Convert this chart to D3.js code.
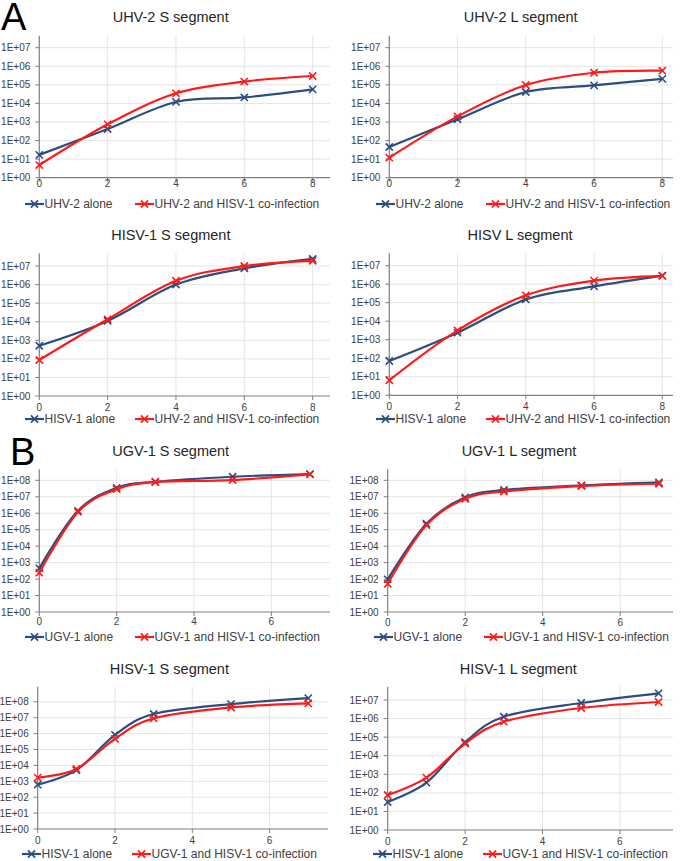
<!DOCTYPE html>
<html><head><meta charset="utf-8">
<script src="https://cdn.jsdelivr.net/npm/d3@7"></script>
<style>
html,body{margin:0;padding:0;background:#fff;}
svg{display:block;font-family:"Liberation Sans",Arial,sans-serif;}
</style></head>
<body>
<svg id="c" width="680" height="861"></svg>
<script>
// ---- data ----
const titles = ["UHV-2 S segment","UHV-2 L segment","HISV-1 S segment","HISV L segment",
                "UGV-1 S segment","UGV-1 L segment","HISV-1 S segment","HISV-1 L segment"];
const daysA = [0,2,4,6,8];
const daysB = [0,1,2,3,5,7];
const xTicksA = [0,2,4,6,8];
const xTicksB = [0,2,4,6];
const legendBlue = ["UHV-2 alone","UHV-2 alone","HISV-1 alone","HISV-1 alone",
                    "UGV-1 alone","UGV-1 alone","HISV-1 alone","HISV-1 alone"];
const legendRed = ["UHV-2 and HISV-1 co-infection","UHV-2 and HISV-1 co-infection",
                   "UHV-2 and HISV-1 co-infection","UHV-2 and HISV-1 co-infection",
                   "UGV-1 and HISV-1 co-infection","UGV-1 and HISV-1 co-infection",
                   "UGV-1 and HISV-1 co-infection","UGV-1 and HISV-1 co-infection"];
const yMaxExp = [7,7,7,7,8,8,8,7];
// series values (copies / viral load)
const aloneUHV2S = [17, 420, 1.2e4, 2.1e4, 5.7e4];
const coUHV2S    = [4.8, 750, 3.5e4, 1.5e5, 3.0e5];
const aloneUHV2L = [45, 1.4e3, 4.1e4, 9.4e4, 2.1e5];
const coUHV2L    = [12, 2.0e3, 9.8e4, 4.5e5, 5.8e5];
const aloneHISVS_A = [510, 1.1e4, 1.0e6, 7.5e6, 2.4e7];
const coHISVS_A    = [87, 1.35e4, 1.6e6, 1.0e7, 1.9e7];
const aloneHISVL_A = [71, 2.4e3, 1.5e5, 7.6e5, 2.9e6];
const coHISVL_A    = [6.5, 3.2e3, 2.5e5, 1.55e6, 2.8e6];
const aloneUGV1S = [450, 1.4e6, 3.5e7, 8.2e7, 1.65e8, 2.4e8];
const coUGV1S    = [245, 1.2e6, 2.9e7, 7.8e7, 1.04e8, 2.3e8];
const aloneUGV1L = [96, 2.3e5, 9.2e6, 2.6e7, 4.9e7, 7.5e7];
const coUGV1L    = [52, 1.9e5, 7.6e6, 2.1e7, 4.5e7, 6.2e7];
const aloneHISVS_B = [620, 5.0e3, 8.4e5, 1.7e7, 7.2e7, 1.7e8];
const coHISVS_B    = [1.7e3, 6.0e3, 4.7e5, 9e6, 4.4e7, 7.9e7];
const aloneHISVL_B = [32, 355, 5.3e4, 1.26e6, 6.9e6, 2.3e7];
const coHISVL_B    = [77, 660, 4.5e4, 6.8e5, 3.7e6, 7.8e6];

const seriesBlue = [aloneUHV2S, aloneUHV2L, aloneHISVS_A, aloneHISVL_A, aloneUGV1S, aloneUGV1L, aloneHISVS_B, aloneHISVL_B];
const seriesRed  = [coUHV2S, coUHV2L, coHISVS_A, coHISVL_A, coUGV1S, coUGV1L, coHISVS_B, coHISVL_B];

// ---- layout ----
const layout = [
 {x0:39.3, xu:34.17, xEnd:330, yb:177.7, dec:18.57, top:35.7, tx:170.7, ty:16.7, lab:5.5, ly:204, lx:25},
 {x0:389.3,xu:34.13, xEnd:673, yb:177.7, dec:18.57, top:35.7, tx:520.7, ty:16.7, lab:5.5, ly:204, lx:376},
 {x0:39.3, xu:34.17, xEnd:330, yb:396,   dec:18.57, top:253.3,tx:170.8, ty:235,  lab:11,  ly:419, lx:25},
 {x0:389.3,xu:34.13, xEnd:673, yb:395.3, dec:18.52, top:253.3,tx:520,   ty:235,  lab:11,  ly:419, lx:376},
 {x0:39.3, xu:38.67, xEnd:330, yb:612,   dec:16.46, top:469.3,tx:170.7, ty:450.7,lab:9.7, ly:637, lx:25},
 {x0:387.7,xu:38.75, xEnd:673, yb:612,   dec:16.46, top:469.3,tx:519,   ty:450.7,lab:10,  ly:637, lx:374},
 {x0:37.7, xu:38.65, xEnd:328, yb:829,   dec:15.9,  top:686.7,tx:169.3, ty:669,  lab:11.5,ly:854, lx:22},
 {x0:387.7,xu:38.7,  xEnd:673, yb:830,   dec:18.57, top:686.7,tx:518.3, ty:669,  lab:11,  ly:854, lx:373}
];
const BLUE = "#2a4e7f", RED = "#ff1a1a";
const svg = d3.select("#c");

function xMark(g, x, y, color, s){
  g.append("path").attr("d", `M${x-s},${y-s}L${x+s},${y+s}M${x-s},${y+s}L${x+s},${y-s}`)
   .attr("stroke", color).attr("stroke-width", 1.6).attr("fill","none");
}

layout.forEach((L, i) => {
  const isA = i < 4;
  const days = isA ? daysA : daysB;
  const xTicks = isA ? xTicksA : xTicksB;
  const nDec = yMaxExp[i];
  const x = d3.scaleLinear().domain([0, (L.xEnd - L.x0) / L.xu]).range([L.x0, L.xEnd]);
  const y = d3.scaleLog().domain([1, Math.pow(10, nDec)]).range([L.yb, L.yb - nDec * L.dec]);
  const g = svg.append("g");
  const yTicks = d3.range(0, nDec + 1).map(e => Math.pow(10, e));

  // gridlines
  g.append("g").selectAll("line").data(yTicks.slice(1)).join("line")
    .attr("x1", L.x0).attr("x2", L.xEnd).attr("y1", d => y(d)).attr("y2", d => y(d))
    .attr("stroke", "#e4e4e4").attr("stroke-width", 1);
  g.append("g").selectAll("line").data(xTicks.slice(1)).join("line")
    .attr("x1", d => x(d)).attr("x2", d => x(d)).attr("y1", L.top).attr("y2", L.yb)
    .attr("stroke", "#e4e4e4").attr("stroke-width", 1);

  // axes
  g.append("line").attr("x1", L.x0).attr("x2", L.x0).attr("y1", L.top).attr("y2", L.yb)
    .attr("stroke", "#7f7f7f").attr("stroke-width", 1.2);
  g.append("line").attr("x1", L.x0).attr("x2", L.xEnd).attr("y1", L.yb).attr("y2", L.yb)
    .attr("stroke", "#7f7f7f").attr("stroke-width", 1.2);
  g.append("g").selectAll("line").data(yTicks).join("line")
    .attr("x1", L.x0 - 4).attr("x2", L.x0).attr("y1", d => y(d)).attr("y2", d => y(d))
    .attr("stroke", "#7f7f7f");
  g.append("g").selectAll("line").data(xTicks).join("line")
    .attr("x1", d => x(d)).attr("x2", d => x(d)).attr("y1", L.yb).attr("y2", L.yb + 4)
    .attr("stroke", "#7f7f7f");
  g.append("g").selectAll("text").data(yTicks).join("text")
    .attr("x", L.x0 - 9).attr("y", d => y(d)).attr("dy", "0.35em")
    .attr("text-anchor", "end").attr("font-size", 10).attr("fill", "#404040")
    .text(d => "1E+0" + Math.round(Math.log10(d)));
  g.append("g").selectAll("text").data(xTicks).join("text")
    .attr("x", d => x(d)).attr("y", L.yb + L.lab).attr("dy", "0.35em")
    .attr("text-anchor", "middle").attr("font-size", 10).attr("fill", "#404040")
    .text(d => d);

  // title
  g.append("text").attr("x", L.tx).attr("y", L.ty).attr("dy", "0.35em")
    .attr("text-anchor", "middle").attr("font-size", 14.5).attr("fill", "#262626")
    .text(titles[i]);

  // lines
  const line = d3.line().x(d => x(d[0])).y(d => y(d[1])).curve(d3.curveCatmullRom.alpha(0));
  [[seriesBlue[i], BLUE], [seriesRed[i], RED]].forEach(([vals, col]) => {
    const pts = days.map((d, k) => [d, vals[k]]);
    g.append("path").attr("d", line(pts)).attr("fill", "none")
      .attr("stroke", col).attr("stroke-width", 2.2);
    pts.forEach(p => xMark(g, x(p[0]), y(p[1]), col, 3.6));
  });

  // legend
  [[legendBlue[i], BLUE, 0], [legendRed[i], RED, 110]].forEach(([t, col, off]) => {
    const lx = L.lx + off;
    g.append("line").attr("x1", lx).attr("x2", lx + 19).attr("y1", L.ly).attr("y2", L.ly)
      .attr("stroke", col).attr("stroke-width", 2.2);
    xMark(g, lx + 9.5, L.ly, col, 3.6);
    g.append("text").attr("x", lx + 19.5).attr("y", L.ly).attr("dy", "0.35em")
      .attr("font-size", 12).attr("fill", "#404040").text(t);
  });
});

// panel letters
svg.append("text").attr("x", 1).attr("y", 30).attr("font-size", 38).attr("fill", "#000").text("A");
svg.append("text").attr("x", 10).attr("y", 465).attr("font-size", 38).attr("fill", "#000").text("B");
</script>
</body></html>
